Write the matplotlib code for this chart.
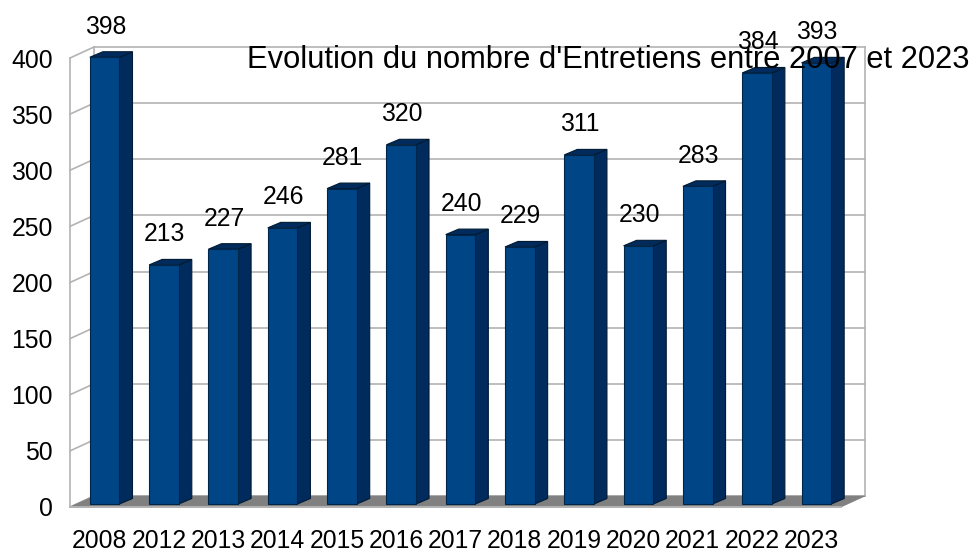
import matplotlib
matplotlib.use("Agg")
from matplotlib import pyplot as plt
from matplotlib.patches import Polygon
from matplotlib.transforms import Affine2D

years = ['2008', '2012', '2013', '2014', '2015', '2016', '2017', '2018', '2019', '2020', '2021', '2022', '2023']
entretiens = [398, 213, 227, 246, 281, 320, 240, 229, 311, 230, 283, 384, 393]
y_ticks = [0, 50, 100, 150, 200, 250, 300, 350, 400]
title = "Evolution du nombre d'Entretiens entre 2007 et 2023"

W, H = 973, 548
plt.rcParams['font.family'] = ['Liberation Sans', 'DejaVu Sans']

fig = plt.figure(figsize=(W / 100, H / 100), dpi=100)
ax = fig.add_axes([70 / W, 1 - 507 / H, 771 / W, 449 / H])
ax.set_xlim(-0.5, 12.5)
ax.set_ylim(0, 400)
for s in ax.spines.values():
  s.set_visible(False)
ax.patch.set_visible(False)

def shifted(px, py):
  return ax.transData + Affine2D().translate(px, py)

wall = '#b3b3b3'
depth = (24, 11)      # depth of the box, pixels
front = (5, 3)        # bar front face inside the box
back = (18, 8.5)      # bar back face

# floor
x0, x1 = ax.get_xlim()
floor_back = shifted(*depth)
fl = [ax.transData.transform(p) for p in [(x0, 0), (x1, 0)]]
fl += [floor_back.transform(p) for p in [(x1, 0), (x0, 0)]]
ax.add_patch(Polygon(fl, closed=True, transform=None, facecolor='#808080', edgecolor='#808080', lw=0.5, zorder=1, clip_on=False))
ax.plot([x0, x1], [0, 0], color=wall, lw=1.4, zorder=2, clip_on=False)

# walls and grid
for v in y_ticks:
  ax.plot([x0, x1], [v, v], transform=floor_back, color=wall, lw=1.2, zorder=0.5, clip_on=False)
  a = ax.transData.transform((x0, v))
  b = floor_back.transform((x0, v))
  ax.plot([a[0], b[0]], [a[1], b[1]], transform=None, color=wall, lw=1.2, zorder=0.5, clip_on=False)
ax.plot([x0, x0], [0, 400], color=wall, lw=1.2, zorder=0.5, clip_on=False)
ax.plot([x0, x0], [0, 400], transform=floor_back, color=wall, lw=1.2, zorder=0.5, clip_on=False)
ax.plot([x1, x1], [0, 400], transform=floor_back, color=wall, lw=1.2, zorder=0.5, clip_on=False)

# bars
bar_w = 0.5
for i, v in enumerate(entretiens):
  l, r = i - bar_w / 2, i + bar_w / 2
  t_f = shifted(*front)
  t_b = shifted(*back)
  side = [t_f.transform((r, 0)), t_b.transform((r, 0)), t_b.transform((r, v)), t_f.transform((r, v))]
  top = [t_f.transform((l, v)), t_f.transform((r, v)), t_b.transform((r, v)), t_b.transform((l, v))]
  ax.add_patch(Polygon(side, closed=True, transform=None, facecolor='#002b5c', edgecolor='#001a33', lw=0.8, zorder=3, clip_on=False))
  ax.add_patch(Polygon(top, closed=True, transform=None, facecolor='#002b5c', edgecolor='#001a33', lw=0.8, zorder=3, clip_on=False))
  ax.bar(i, v, width=bar_w, transform=t_f, color='#004586', edgecolor='#00264a', lw=0.8, zorder=4, clip_on=False)
  ax.annotate(str(v), (i, v), xytext=(0.6, 30.5 * 0.72), textcoords='offset points', xycoords=t_f,
              ha='center', va='center', fontsize=17.8, color='#000000', zorder=6, annotation_clip=False)

ax.set_xticks(range(len(years)), years)
ax.set_yticks(y_ticks)
ax.tick_params(axis='both', length=0, labelsize=17.8, colors='#000000')
ax.tick_params(axis='x', pad=16)
ax.tick_params(axis='y', pad=12.3)

fig.text(608.5 / W, 1 - 60 / H, title, ha='center', va='center', fontsize=22.2, color='#000000', zorder=10)

fig.savefig('out.png', dpi=100)
